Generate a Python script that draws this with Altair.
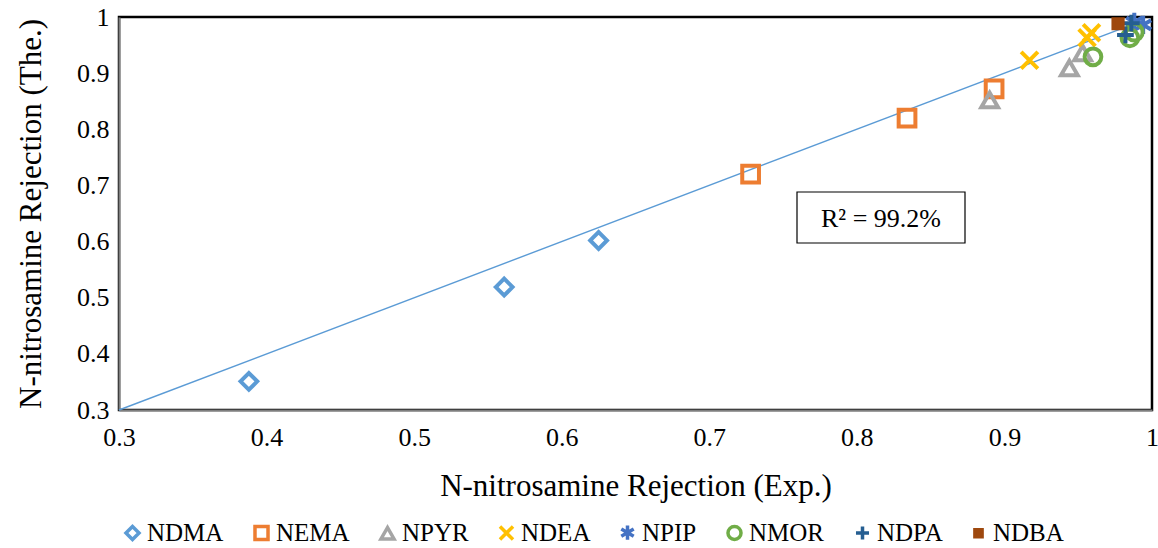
import altair as alt
import pandas as pd

# ---- data ----
series = ["NDMA", "NEMA", "NPYR", "NDEA", "NPIP", "NMOR", "NDPA", "NDBA"]
colors = ["#5B9BD5", "#ED7D31", "#A5A5A5", "#FFC000", "#4472C4", "#70AD47", "#255E91", "#9E480E"]
fills = ["transparent"] * 7 + ["#9E480E"]
shapes = [
    "diamond",
    "square",
    "triangle-up",
    "M-1,-1L1,1M-1,1L1,-1",
    "M0,-1.1L0,1.1M-0.95,-0.55L0.95,0.55M-0.95,0.55L0.95,-0.55",
    "circle",
    "M-1,0L1,0M0,-1L0,1",
    "M-0.55,-0.55L0.55,-0.55L0.55,0.55L-0.55,0.55Z",
]

ndma_x = [0.388, 0.561, 0.625]
ndma_y = [0.351, 0.519, 0.602]
nema_x = [0.728, 0.834, 0.893]
nema_y = [0.720, 0.820, 0.872]
npyr_x = [0.890, 0.944, 0.953]
npyr_y = [0.852, 0.909, 0.936]
ndea_x = [0.917, 0.956, 0.959]
ndea_y = [0.923, 0.963, 0.972]
npip_x = [0.988, 0.994]
npip_y = [0.991, 0.986]
nmor_x = [0.960, 0.985, 0.988]
nmor_y = [0.929, 0.963, 0.973]
ndpa_x = [0.982, 0.986]
ndpa_y = [0.968, 0.989]
ndba_x = [0.977]
ndba_y = [0.988]

fit_x = [0.3, 0.995]
fit_y = [0.3, 0.995]

xs = [ndma_x, nema_x, npyr_x, ndea_x, npip_x, nmor_x, ndpa_x, ndba_x]
ys = [ndma_y, nema_y, npyr_y, ndea_y, npip_y, nmor_y, ndpa_y, ndba_y]

rows = []
for name, sx, sy in zip(series, xs, ys):
    for a, b in zip(sx, sy):
        rows.append({"series": name, "exp": a, "the": b})
df = pd.DataFrame(rows)
fit_df = pd.DataFrame({"exp": fit_x, "the": fit_y})
label_df = pd.DataFrame({"label": ["R² = 99.2%"]})

FONT = "Liberation Serif"

xscale = alt.Scale(domain=[0.3, 1.0], nice=False, zero=False)
yscale = alt.Scale(domain=[0.3, 1.0], nice=False, zero=False)
tick_vals = [0.3, 0.4, 0.5, 0.6, 0.7, 0.8, 0.9, 1.0]

xaxis = alt.Axis(
    title="N-nitrosamine Rejection (Exp.)",
    values=tick_vals, format="~g",
    labelPadding=14, titlePadding=21,
)
yaxis = alt.Axis(
    title="N-nitrosamine Rejection (The.)",
    values=tick_vals, format="~g",
    labelPadding=10, titlePadding=29,
)

fit = alt.Chart(fit_df).mark_line(color="#5B9BD5", strokeWidth=1.4).encode(
    x=alt.X("exp:Q", scale=xscale, axis=xaxis),
    y=alt.Y("the:Q", scale=yscale, axis=yaxis),
)

legend = alt.Legend(
    title=None,
    orient="none",
    direction="horizontal",
    legendX=1,
    legendY=503,
    symbolSize=170,
    symbolStrokeWidth=3.5,
    labelOffset=2,
    columnPadding=23,
)

pts = alt.Chart(df).mark_point(strokeWidth=4, size=280, opacity=1).encode(
    x=alt.X("exp:Q", scale=xscale, axis=xaxis),
    y=alt.Y("the:Q", scale=yscale, axis=yaxis),
    stroke=alt.Stroke("series:N", scale=alt.Scale(domain=series, range=colors), legend=legend, sort=series),
    fill=alt.Fill("series:N", scale=alt.Scale(domain=series, range=fills), legend=legend, sort=series),
    shape=alt.Shape("series:N", scale=alt.Scale(domain=series, range=shapes), legend=legend, sort=series),
)

box = alt.Chart(label_df).mark_rect(fill="white", stroke="black", strokeWidth=1.2).encode(
    x=alt.value(678), x2=alt.value(846), y=alt.value(175), y2=alt.value(226)
)
txt = alt.Chart(label_df).mark_text(font=FONT, fontSize=26, color="black", align="center", baseline="middle").encode(
    x=alt.value(762), y=alt.value(202), text="label:N"
)

chart = alt.layer(fit, box, txt, pts).properties(
    width=1033,
    height=393,
    background="white",
    autosize=alt.AutoSizeParams(type="none"),
    padding={"left": 119, "top": 17, "right": 6, "bottom": 138},
).configure_view(
    stroke="black", strokeWidth=2.5
).configure_axis(
    grid=False, ticks=False,
    domainColor="#7F7F7F", domainWidth=2,
    labelFont=FONT, labelFontSize=26, labelColor="black", labelFlush=False,
    titleFont=FONT, titleFontSize=31, titleFontWeight="normal", titleColor="black",
).configure_legend(
    labelFont=FONT, labelFontSize=25, labelColor="black",
    symbolStrokeWidth=3.5,
)

chart.save("out.html", embed_options={"renderer": "svg", "actions": False})
